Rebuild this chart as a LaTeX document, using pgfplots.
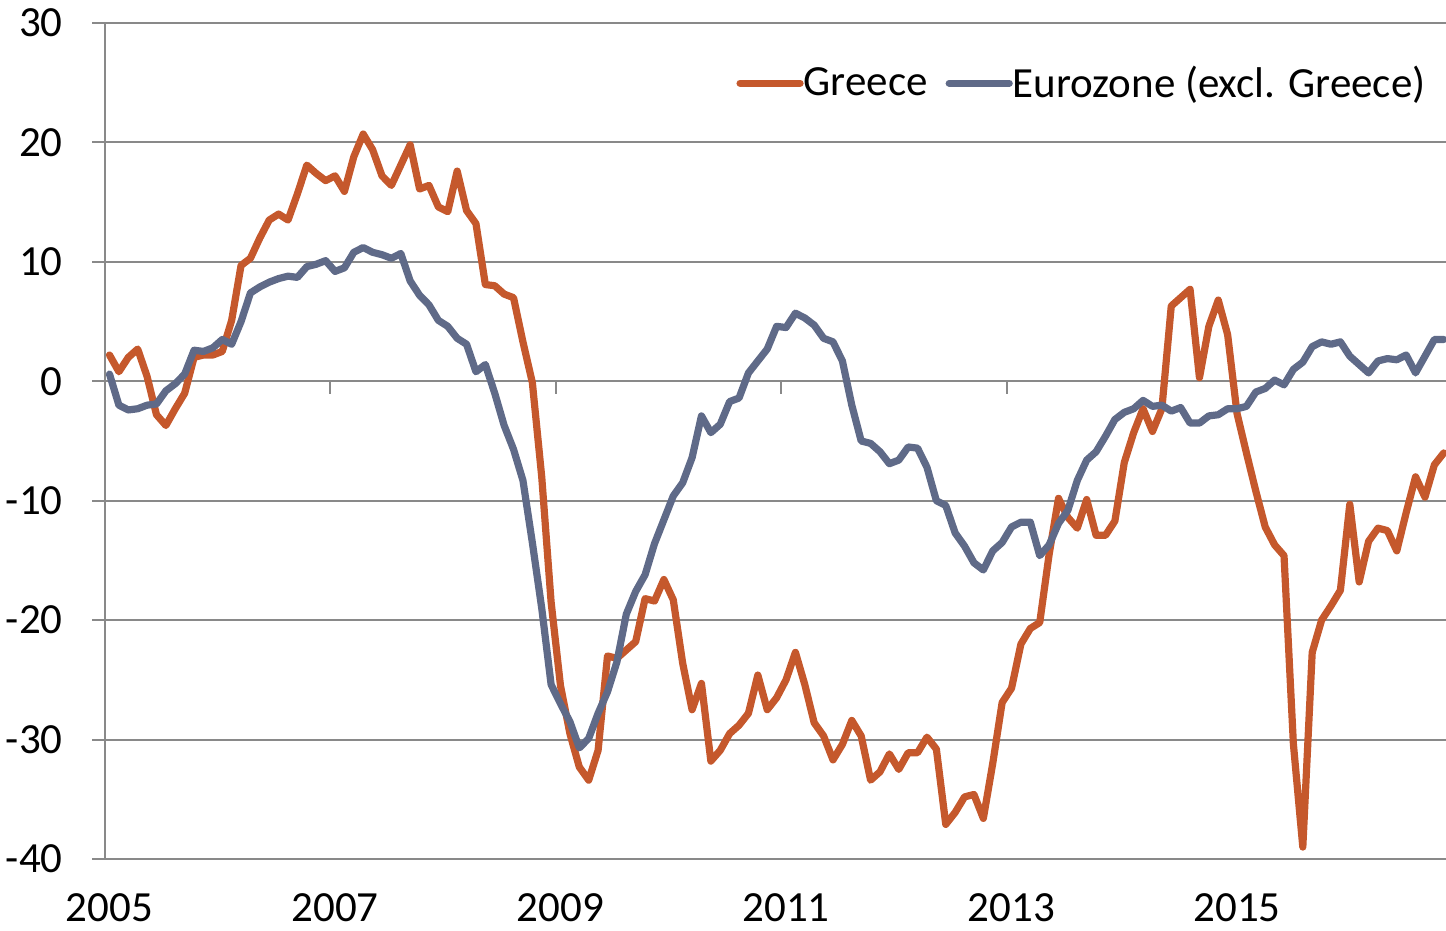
\documentclass[border=0pt]{standalone}
\usepackage{fontspec}
\setmainfont{Carlito}
\usepackage{pgfplots}
\usepackage{pgfplotstable}
\pgfplotsset{compat=1.18}
\definecolor{greece}{RGB}{197,88,44}
\definecolor{euro}{RGB}{95,106,136}
\definecolor{gridgray}{RGB}{137,137,137}
\newcommand{\fs}{\fontsize{21.5pt}{25pt}\selectfont}

\pgfplotstableread{
i g e
0 2.2 0.6
1 0.8 -2.0
2 2.0 -2.4
3 2.7 -2.3
4 0.4 -2.0
5 -2.8 -1.9
6 -3.7 -0.8
7 -2.3 -0.2
8 -1.0 0.6
9 2.0 2.6
10 2.2 2.5
11 2.2 2.8
12 2.5 3.5
13 5.1 3.1
14 9.7 5.0
15 10.3 7.4
16 12.0 7.9
17 13.5 8.3
18 14.0 8.6
19 13.5 8.8
20 15.7 8.7
21 18.1 9.6
22 17.4 9.8
23 16.8 10.1
24 17.2 9.2
25 15.9 9.5
26 18.8 10.8
27 20.7 11.2
28 19.4 10.8
29 17.2 10.6
30 16.4 10.3
31 18.1 10.7
32 19.8 8.4
33 16.1 7.2
34 16.4 6.4
35 14.6 5.1
36 14.2 4.6
37 17.6 3.6
38 14.3 3.1
39 13.2 0.8
40 8.1 1.4
41 8.0 -1.0
42 7.3 -3.7
43 7.0 -5.7
44 3.3 -8.3
45 -0.1 -13.5
46 -8.0 -19.0
47 -18.5 -25.4
48 -25.5 -27.0
49 -29.5 -28.5
50 -32.3 -30.7
51 -33.4 -29.9
52 -30.9 -27.8
53 -23.0 -26.0
54 -23.2 -23.5
55 -22.5 -19.5
56 -21.8 -17.6
57 -18.2 -16.2
58 -18.4 -13.6
59 -16.6 -11.6
60 -18.3 -9.6
61 -23.6 -8.5
62 -27.5 -6.4
63 -25.3 -2.9
64 -31.8 -4.3
65 -30.9 -3.6
66 -29.5 -1.7
67 -28.8 -1.4
68 -27.8 0.7
69 -24.6 1.7
70 -27.5 2.7
71 -26.5 4.6
72 -25.0 4.5
73 -22.7 5.7
74 -25.4 5.3
75 -28.6 4.7
76 -29.7 3.6
77 -31.7 3.3
78 -30.4 1.7
79 -28.4 -2.0
80 -29.7 -5.0
81 -33.4 -5.2
82 -32.7 -5.9
83 -31.2 -6.9
84 -32.5 -6.6
85 -31.1 -5.5
86 -31.1 -5.6
87 -29.8 -7.2
88 -30.8 -10.0
89 -37.1 -10.4
90 -36.1 -12.7
91 -34.8 -13.8
92 -34.6 -15.2
93 -36.6 -15.8
94 -32.0 -14.2
95 -26.9 -13.5
96 -25.7 -12.2
97 -22.0 -11.8
98 -20.7 -11.8
99 -20.2 -14.6
100 -14.5 -13.7
101 -9.8 -11.9
102 -11.4 -10.8
103 -12.3 -8.3
104 -9.9 -6.6
105 -12.9 -5.9
106 -12.9 -4.6
107 -11.7 -3.2
108 -6.8 -2.6
109 -4.3 -2.3
110 -2.3 -1.6
111 -4.2 -2.1
112 -2.3 -2.0
113 6.3 -2.5
114 7.0 -2.2
115 7.7 -3.5
116 0.3 -3.5
117 4.6 -2.9
118 6.8 -2.8
119 3.9 -2.3
120 -2.7 -2.3
121 -6.0 -2.1
122 -9.2 -0.9
123 -12.2 -0.6
124 -13.7 0.1
125 -14.6 -0.3
126 -30.4 1.0
127 -39.0 1.6
128 -22.7 2.9
129 -20.0 3.3
130 -18.8 3.1
131 -17.5 3.3
132 -10.3 2.1
133 -16.8 1.4
134 -13.4 0.7
135 -12.3 1.7
136 -12.5 1.9
137 -14.2 1.8
138 -11.0 2.2
139 -8.0 0.7
140 -9.7 2.1
141 -7.0 3.5
142 -6.0 3.5
}\data

\begin{document}
\begin{tikzpicture}
\useasboundingbox (-52.5pt,-36pt) rectangle (670.5pt,429.5pt);
\begin{axis}[
  at={(0,0)}, anchor=south west,
  scale only axis, width=670.5pt, height=418pt,
  xmin=-0.48, xmax=142.24, ymin=-40, ymax=30,
  axis line style={draw=none},
  major tick length=0pt,
  tick style={draw=none},
  xtick={0,24,48,72,96,120},
  xticklabels={2005,2007,2009,2011,2013,2015},
  ytick={-40,-30,-20,-10,0,10,20,30},
  yticklabels={-40,-30,-20,-10,0,10,20,30},
  xticklabel pos=lower, yticklabel pos=left,
  ymajorgrids, grid style={gridgray, line width=1pt},
  xticklabel style={font=\fs, inner sep=0pt, anchor=north, yshift=-17pt},
  yticklabel style={font=\fs, inner sep=0pt, anchor=east, xshift=-21pt},
  clip mode=individual,
  legend columns=2,
  legend style={draw=none, fill=none, at={(rel axis cs:0.985,0.928)}, anchor=east,
    inner sep=0pt, font=\fs, nodes={inner sep=0pt},
    /tikz/every even column/.append style={column sep=9pt}},
  legend image code/.code={\draw[#1, line width=3.6pt, line cap=round] (1.8pt,0pt) -- (27pt,0pt); \path (0pt,0pt) -- (30pt,0pt);},
]
\draw[gridgray, line width=1pt] (rel axis cs:0,0) -- (rel axis cs:0,1);
\pgfplotsinvokeforeach{23.5,47.5,71.5,95.5,119.5}{\draw[gridgray,line width=1pt] (axis cs:#1,0) -- ([yshift=-6.5pt]axis cs:#1,0);}
\pgfplotsinvokeforeach{-40,-30,-20,-10,0,10,20,30}{\draw[gridgray,line width=1pt] (axis cs:-0.48,#1) -- ([xshift=-6.5pt]axis cs:-0.48,#1);}
\addplot[greece, line width=3.6pt, line join=round, line cap=round, mark=none] table[x=i,y=g]{\data};
\addlegendentry{Greece}
\addplot[euro, line width=3.6pt, line join=round, line cap=round, mark=none] table[x=i,y=e]{\data};
\addlegendentry{Eurozone (excl. Greece)}
\end{axis}
\end{tikzpicture}
\end{document}
